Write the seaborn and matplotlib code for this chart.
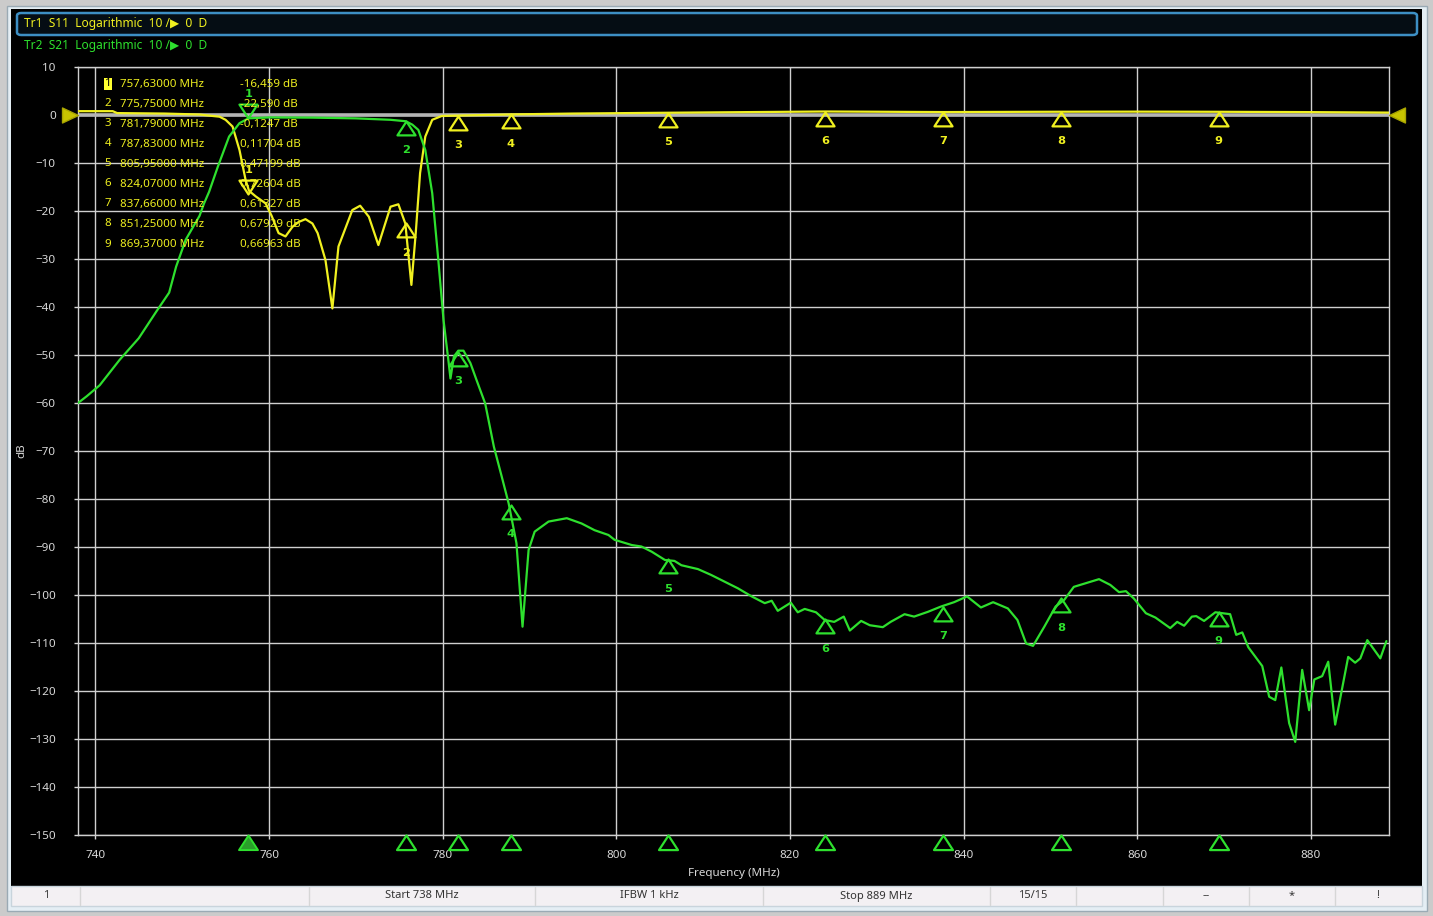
import numpy as np
import pandas as pd
import matplotlib
matplotlib.use('Agg')
import matplotlib.pyplot as plt
from matplotlib.path import Path
from matplotlib.patches import Rectangle, FancyBboxPatch
import seaborn as sns

# S11 trace (yellow)
s11_freq = [738, 742, 742.5, 748, 752, 753.5, 754.3, 755.0, 755.8, 756.6, 757.3, 757.7,
            758.5, 759.6, 760.3, 761.1, 761.9, 762.7, 763.4, 764.2, 765.0, 765.6, 766.5,
            767.3, 768.0, 769.6, 770.5, 771.5, 772.6, 774.0, 774.9, 775.7, 776.4, 776.9,
            777.4, 778.0, 778.8, 779.9, 781.79, 787.83, 795, 805.95, 815, 824.07, 830,
            837.66, 845, 851.25, 860, 869.37, 880, 889]
s11_db = [0.8, 0.8, 0.4, 0.3, 0.1, -0.2, -0.35, -1.0, -2.4, -7.3, -13.5, -15.8,
          -17.0, -18.4, -21.0, -24.6, -25.3, -23.3, -22.3, -21.7, -22.6, -24.6, -30.2,
          -40.3, -27.4, -19.8, -18.9, -21.2, -27.1, -19.1, -18.6, -22.6, -35.4, -24.6,
          -12.1, -4.5, -1.0, -0.2, -0.12, 0.12, 0.3, 0.47, 0.6, 0.73, 0.68,
          0.61, 0.65, 0.68, 0.7, 0.67, 0.6, 0.5]

# S21 trace (green)
s21_freq = [738, 739, 740.5, 742.8, 745, 747, 748.5, 749.3, 750.4, 752.0, 752.5, 753.1,
            754.1, 755.4, 756.6, 757.63, 760, 765, 770, 774, 775.75, 776.5, 777.2, 778.0,
            778.8, 779.5, 780.1, 780.7, 780.9, 781.3, 781.8, 782.4, 783.2, 783.9, 784.9,
            785.9, 786.8, 787.6, 788.5, 789.2, 789.9, 790.6, 792.2, 794.3, 796.0, 797.5,
            799.1, 799.8, 801.8, 802.9, 804.1, 805.6, 806.7, 807.5, 809.4, 810.9, 814.0,
            815.6, 817.1, 817.9, 818.6, 820.1, 820.9, 821.7, 823.0, 824.0, 825.1, 826.2,
            826.9, 828.2, 829.2, 830.7, 831.6, 833.2, 834.3, 835.9, 837.4, 838.9, 840.4,
            842.0, 843.4, 845.1, 846.2, 847.2, 848.0, 849.3, 850.6, 851.6, 852.7, 855.6,
            856.9, 857.9, 858.7, 859.6, 861.0, 862.1, 863.8, 864.6, 865.4, 866.3, 866.8,
            867.7, 869.0, 870.7, 871.4, 872.1, 872.8, 874.4, 875.2, 875.9, 876.6, 877.5,
            878.2, 879.0, 879.8, 880.4, 881.3, 882.0, 882.8, 884.3, 885.1, 885.7, 886.5,
            888.0, 888.7]
s21_db = [-60, -58.6, -56.3, -51, -46.5, -41, -37, -31.6, -26, -21, -18.5, -16,
          -10.8, -4.5, -1.7, -0.7, -0.5, -0.55, -0.7, -1.0, -1.3, -2.0, -3.1, -7.3,
          -16.3, -30.2, -42.7, -51.7, -54.9, -50.3, -49.1, -49.1, -51.7, -55.2, -60.1,
          -69.1, -75.3, -80.9, -89.2, -106.6, -90.6, -86.8, -84.7, -84.0, -85.1, -86.5,
          -87.5, -88.5, -89.6, -89.9, -91.0, -92.7, -92.9, -93.8, -94.6, -95.8, -98.6,
          -100.3, -101.7, -101.2, -103.3, -101.6, -103.6, -102.9, -103.6, -105.2, -105.6, -104.5,
          -107.4, -105.4, -106.3, -106.7, -105.6, -104.0, -104.5, -103.5, -102.4, -101.5, -100.3,
          -102.6, -101.5, -102.8, -105.2, -110.1, -110.6, -106.6, -102.4, -101.0, -98.3, -96.7,
          -97.9, -99.4, -99.2, -100.7, -103.8, -104.7, -106.9, -105.6, -106.4, -104.5, -104.4,
          -105.4, -103.6, -104.0, -108.3, -107.8, -110.9, -114.8, -121.2, -121.9, -115.1, -126.7,
          -130.6, -115.6, -124.0, -117.6, -116.9, -113.9, -127.0, -112.9, -114.1, -113.2, -109.4,
          -113.2, -109.6]

marker_freq = [757.63, 775.75, 781.79, 787.83, 805.95, 824.07, 837.66, 851.25, 869.37]
marker_s11 = [-16.459, -22.590, -0.1247, 0.11704, 0.47199, 0.72604, 0.61327, 0.67929, 0.66963]
marker_s21 = [-0.6, -1.3, -49.3, -81.2, -92.6, -105.1, -102.4, -100.7, -103.6]
table_freq = ['757,63000 MHz', '775,75000 MHz', '781,79000 MHz', '787,83000 MHz', '805,95000 MHz',
              '824,07000 MHz', '837,66000 MHz', '851,25000 MHz', '869,37000 MHz']
table_val = ['-16,459 dB', '-22,590 dB', '-0,1247 dB', '0,11704 dB', '0,47199 dB',
             '0,72604 dB', '0,61327 dB', '0,67929 dB', '0,66963 dB']
x_ticks = [740, 760, 780, 800, 820, 840, 860, 880]
y_ticks = list(range(10, -151, -10))
status_text = ['1', '', 'Start 738 MHz', 'IFBW 1 kHz', 'Stop 889 MHz', '15/15', '', '--', '*', '!']
status_edges = [12, 80, 309, 535, 763, 990, 1076, 1163, 1249, 1335, 1421]

YEL = '#f0f020'
GRN = '#2ee02e'
GRID = '#cfcfcf'
TXT = '#d8d8d8'

sns.set_theme(style='dark', rc={'axes.facecolor': 'black', 'figure.facecolor': '#cbcbcb'})
plt.rcParams['font.family'] = ['Noto Sans', 'DejaVu Sans']

W, H = 1433, 916
fig = plt.figure(figsize=(W / 100, H / 100), dpi=100)


def fx(px):
    return px / W


def fy(py):
    return 1 - py / H


def box(x0, y0, x1, y1, **kw):
    fig.add_artist(Rectangle((fx(x0), fy(y1)), (x1 - x0) / W, (y1 - y0) / H,
                             transform=fig.transFigure, **kw))


# window frame, black panel, status bar
box(7, 6, 1427, 911, facecolor='#e4eef4', edgecolor='#9aaab4', lw=1, zorder=-12)
box(11, 9, 1422, 886, facecolor='black', edgecolor='none', zorder=-11)
box(11, 886, 1422, 906, facecolor='#f3f0f3', edgecolor='#c8d4dc', lw=1, zorder=-11)
for e in status_edges[1:-1]:
    fig.add_artist(plt.Line2D([fx(e), fx(e)], [fy(887), fy(905)], color='#d6d6d6', lw=1,
                              transform=fig.transFigure))
for i, t in enumerate(status_text):
    if i == 1:
        continue
    cx = (status_edges[i] + status_edges[i + 1]) / 2 if i > 0 else 46
    fig.text(fx(cx), fy(896), t, ha='center', va='center', fontsize=8, color='#333333')

# header
fig.add_artist(FancyBboxPatch((fx(17), fy(35)), (1417 - 17) / W, 22 / H,
                              boxstyle='round,pad=0,rounding_size=0.003',
                              transform=fig.transFigure, facecolor='#050d14',
                              edgecolor='#3d8fc4', lw=1.8, zorder=-10))
fig.text(fx(24), fy(24), 'Tr1  S11  Logarithmic  10 /\u25B6  0  D', color=YEL, fontsize=8.6,
         va='center', ha='left')
fig.text(fx(24), fy(46), 'Tr2  S21  Logarithmic  10 /\u25B6  0  D', color=GRN, fontsize=8.6,
         va='center', ha='left')

ax = fig.add_axes([fx(78), fy(835), (1389 - 78) / W, (835 - 67) / H])
ax.set_facecolor('black')

s11 = pd.DataFrame({'freq': s11_freq, 'db': s11_db})
s21 = pd.DataFrame({'freq': s21_freq, 'db': s21_db})

ax.axhline(0, color='#b4b4b4', lw=2.6, zorder=1)
sns.lineplot(data=s11, x='freq', y='db', ax=ax, color=YEL, lw=1.6, estimator=None,
             sort=False, zorder=3)
sns.lineplot(data=s21, x='freq', y='db', ax=ax, color=GRN, lw=1.6, estimator=None,
             sort=False, zorder=4)

ax.set_xlim(738, 889)
ax.set_ylim(-150, 10)
ax.set_xticks(x_ticks)
ax.set_yticks(y_ticks)
ax.grid(True, color=GRID, lw=1, zorder=0)
for s in ax.spines.values():
    s.set_color(GRID)
    s.set_linewidth(1)
ax.tick_params(axis='both', colors=TXT, labelsize=8.4, length=3, width=1, direction='out',
               bottom=True, left=True)
ax.tick_params(axis='x', pad=8)
ax.tick_params(axis='y', pad=13)
for lab in ax.get_xticklabels() + ax.get_yticklabels():
    lab.set_color(TXT)
ax.set_xlabel('Frequency (MHz)', color=TXT, fontsize=8.4, labelpad=5)
ax.set_ylabel('dB', color=TXT, fontsize=8.4)
ax.yaxis.set_label_coords((27 - 78) / 1311, (835 - 451) / 768)

# marker shapes with the tip at the data point
tri_up = Path([(0, 0), (-0.65, -1), (0.65, -1), (0, 0)], closed=True)
tri_dn = Path([(0, 0), (-0.65, 1), (0.65, 1), (0, 0)], closed=True)
ref_r = Path([(0, 0), (-1, 0.47), (-1, -0.47), (0, 0)], closed=True)
ref_l = Path([(0, 0), (1, 0.47), (1, -0.47), (0, 0)], closed=True)

ax.plot([738], [0], marker=ref_r, ms=23, color='#c8c400', mec='#a8a400', clip_on=False, zorder=6)
ax.plot([889], [0], marker=ref_l, ms=23, color='#c8c400', mec='#a8a400', clip_on=False, zorder=6)

num_font = dict(fontsize=8.2, fontweight='bold', family=['DejaVu Sans'])
for trace_vals, col, z in [(marker_s11, YEL, 7), (marker_s21, GRN, 8)]:
    for k, (f, v) in enumerate(zip(marker_freq, trace_vals)):
        if k == 0:
            ax.plot([f], [v], marker=tri_dn, ms=20, mfc='none', mec=col, mew=1.6, zorder=z)
            ax.annotate(str(k + 1), (f, v), xytext=(0, 17), textcoords='offset points',
                        ha='center', va='center', color=col, zorder=z, **num_font)
        else:
            ax.plot([f], [v], marker=tri_up, ms=20, mfc='none', mec=col, mew=1.6, zorder=z)
            ax.annotate(str(k + 1), (f, v), xytext=(0, -21), textcoords='offset points',
                        ha='center', va='center', color=col, zorder=z, **num_font)

# marker positions along the bottom edge
for k, f in enumerate(marker_freq):
    if k == 0:
        ax.plot([f], [-150], marker=tri_up, ms=21, mfc='#2a9f2a', mec=GRN, mew=1.4,
                clip_on=False, zorder=9)
    else:
        ax.plot([f], [-150], marker=tri_up, ms=21, mfc='none', mec=GRN, mew=1.6,
                clip_on=False, zorder=9)

# marker table
for i in range(9):
    y = 84 + 20 * i
    if i == 0:
        fig.text(fx(108), fy(y), '1', color='black', fontsize=8.3, ha='center', va='center',
                 bbox=dict(facecolor='#ffff30', edgecolor='none', pad=0.6))
    else:
        fig.text(fx(108), fy(y), str(i + 1), color=YEL, fontsize=8.3, ha='center', va='center')
    fig.text(fx(120), fy(y), table_freq[i], color=YEL, fontsize=8.3, ha='left', va='center')
    fig.text(fx(240), fy(y), table_val[i], color=YEL, fontsize=8.3, ha='left', va='center')

fig.savefig('out.png', dpi=100, facecolor=fig.get_facecolor())
